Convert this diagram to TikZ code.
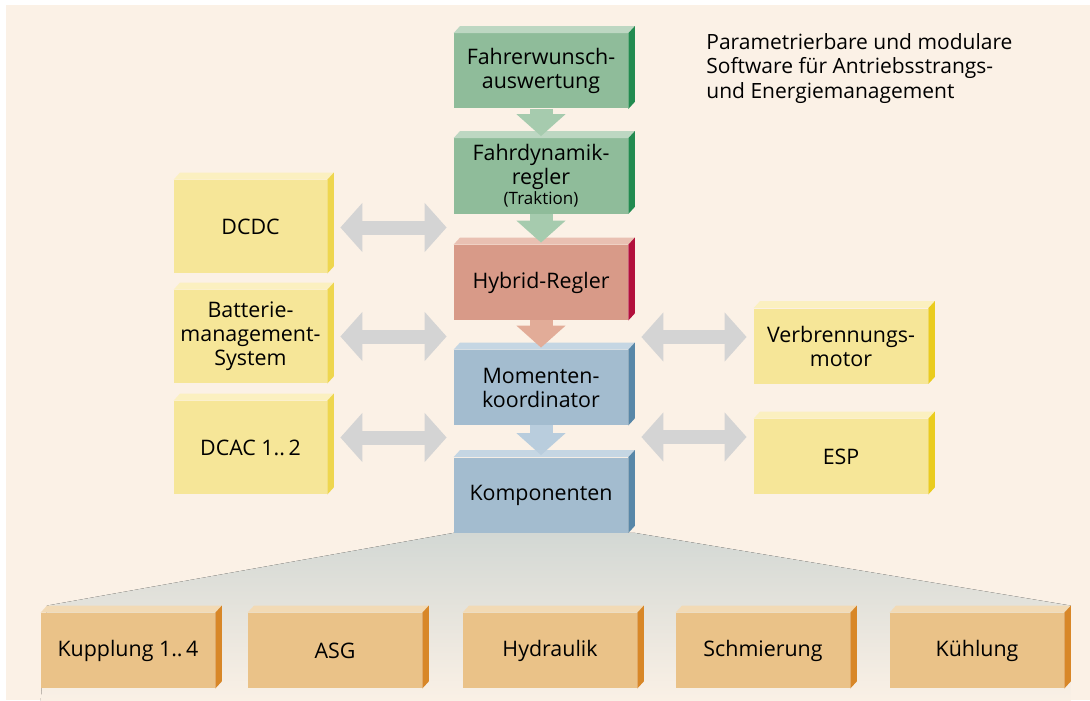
\documentclass[tikz,border=0pt]{standalone}
\usepackage{fontspec}
\setmainfont{Open Sans}
\usetikzlibrary{arrows.meta, positioning, backgrounds}
\definecolor{bgcolor}{RGB}{251, 241, 230}
\definecolor{greenfront}{RGB}{143, 188, 154}
\definecolor{greentop}{RGB}{189, 215, 194}
\definecolor{greenside}{RGB}{34, 139, 80}
\definecolor{greenarrow}{RGB}{166, 203, 174}
\definecolor{redfront}{RGB}{216, 154, 136}
\definecolor{redtop}{RGB}{233, 192, 178}
\definecolor{redside}{RGB}{178, 16, 60}
\definecolor{redarrow}{RGB}{226, 172, 152}
\definecolor{bluefront}{RGB}{163, 188, 207}
\definecolor{bluetop}{RGB}{197, 214, 227}
\definecolor{blueside}{RGB}{88, 135, 168}
\definecolor{bluearrow}{RGB}{185, 205, 221}
\definecolor{yellowfront}{RGB}{246, 230, 152}
\definecolor{yellowtop}{RGB}{251, 240, 192}
\definecolor{yellowside}{RGB}{238, 214, 78}
\definecolor{yellowsidedark}{RGB}{234, 204, 30}
\definecolor{orangefront}{RGB}{234, 194, 136}
\definecolor{orangetop}{RGB}{242, 218, 181}
\definecolor{orangeside}{RGB}{216, 135, 40}
\definecolor{arrowgray}{RGB}{212, 212, 212}
\definecolor{fantop}{RGB}{211, 216, 212}

% top and side face of a block
\newcommand{\boxfaces}[3]{%
  \fill[#2] (#1.north west) -- ++(3.2pt,3.5pt) -- ([shift={(3.2pt,3.5pt)}]#1.north east) -- (#1.north east) -- cycle;
  \fill[#3] (#1.north east) -- ++(3.2pt,3.5pt) -- ([shift={(3.2pt,3.5pt)}]#1.south east) -- (#1.south east) -- cycle;}

\begin{document}
\begin{tikzpicture}[
    x=0.5pt, y=-0.5pt,
    block/.style={fill=#1, minimum width=87pt, minimum height=37.5pt, inner sep=0pt, align=center, font=\fontsize{10.7}{12}\selectfont},
    sideblock/.style={block=yellowfront, minimum width=76.5pt, minimum height=46.5pt},
    downarrow/.style={-{Triangle[width=24pt, length=11pt]}, line width=11.5pt, draw=#1, shorten >=1pt},
    dblarrow/.style={{Triangle[width=24pt, length=11pt]}-{Triangle[width=24pt, length=11pt]}, line width=7pt, draw=arrowgray, shorten <=3.5pt, shorten >=3.5pt}
]
    \useasboundingbox (0,0) rectangle (1090,700);

    % Main column
    \node[block=greenfront] (fwa) at (541, 71) {Fahrerwunsch-\\auswertung};
    \node[block=greenfront] (fdr) at (541, 176) {Fahrdynamik-\\regler\\[-2pt]{\fontsize{8.5}{9}\selectfont (Traktion)}};
    \node[block=redfront] (hyb) at (541, 282.5) {Hybrid-Regler};
    \node[block=bluefront] (mom) at (541, 387.5) {Momenten-\\koordinator};
    \node[block=bluefront] (kom) at (541, 495) {Komponenten};

    % Left blocks
    \node[sideblock] (dcdc) at (250.5, 226.5) {DCDC};
    \node[sideblock] (bms) at (250.5, 336.5) {Batterie-\\management-\\System};
    \node[sideblock] (dcac) at (250.5, 447.5) {DCAC 1..\,2};

    % Right blocks
    \node[block=yellowfront] (vbm) at (841, 346) {Verbrennungs-\\motor};
    \node[block=yellowfront] (esp) at (841, 456.5) {ESP};

    % Component blocks
    \node[block=orangefront] (kup) at (128, 650.5) {Kupplung 1..\,4};
    \node[block=orangefront] (asg) at (335, 650.5) {ASG};
    \node[block=orangefront] (hyd) at (550, 650.5) {Hydraulik};
    \node[block=orangefront] (smr) at (763, 650.5) {Schmierung};
    \node[block=orangefront] (kuh) at (977, 650.5) {Kühlung};

    % Title
    \node[anchor=north west, align=left, inner sep=0pt, font=\fontsize{10.5}{12.3}\selectfont] (title) at (706, 33)
        {Parametrierbare und modulare\\Software für Antriebsstrangs-\\und Energiemanagement};

    % 3D faces
    \foreach \n/\t/\s in {fwa/greentop/greenside, fdr/greentop/greenside, hyb/redtop/redside,
        mom/bluetop/blueside, kom/bluetop/blueside, dcdc/yellowtop/yellowside, bms/yellowtop/yellowside,
        dcac/yellowtop/yellowside, vbm/yellowtop/yellowsidedark, esp/yellowtop/yellowsidedark,
        kup/orangetop/orangeside, asg/orangetop/orangeside, hyd/orangetop/orangeside,
        smr/orangetop/orangeside, kuh/orangetop/orangeside}
        \boxfaces{\n}{\t}{\s};

    % Background and fan
    \begin{pgfonlayer}{background}
        \fill[bgcolor] (6,5) rectangle (1090,700);
        \fill[top color=fantop, bottom color=bgcolor] (kom.south west) -- ([xshift=3.2pt]kom.south east)
            -- ([shift={(3.2pt,3.5pt)}]kuh.north east) -- ([shift={(3.2pt,-8pt)}]kuh.south east)
            -- ([yshift=-8pt]kup.south west) -- ([shift={(3.2pt,3.5pt)}]kup.north west) -- cycle;
    \end{pgfonlayer}

    % Flow arrows
    \draw[downarrow=greenarrow] (fwa) -- (fdr);
    \draw[downarrow=greenarrow] (fdr) -- (hyb);
    \draw[downarrow=redarrow] (hyb) -- (mom);
    \draw[downarrow=bluearrow] (mom) -- (kom);

    % Exchange arrows
    \draw[dblarrow, shorten <=6.5pt] ([yshift=-0.5pt]dcdc.east) -- ([yshift=-0.5pt]dcdc.east -| fdr.west);
    \draw[dblarrow, shorten <=6.5pt] (bms.east) -- (bms.east -| hyb.west);
    \draw[dblarrow, shorten <=6.5pt] ([yshift=5pt]dcac.east) -- ([yshift=5pt]dcac.east -| kom.west);
    \draw[dblarrow, shorten <=6.5pt] ([yshift=4.5pt]vbm.west -| mom.east) -- ([yshift=4.5pt]vbm.west);
    \draw[dblarrow, shorten <=6.5pt] ([yshift=9.75pt]esp.west -| kom.east) -- ([yshift=9.75pt]esp.west);
\end{tikzpicture}
\end{document}
